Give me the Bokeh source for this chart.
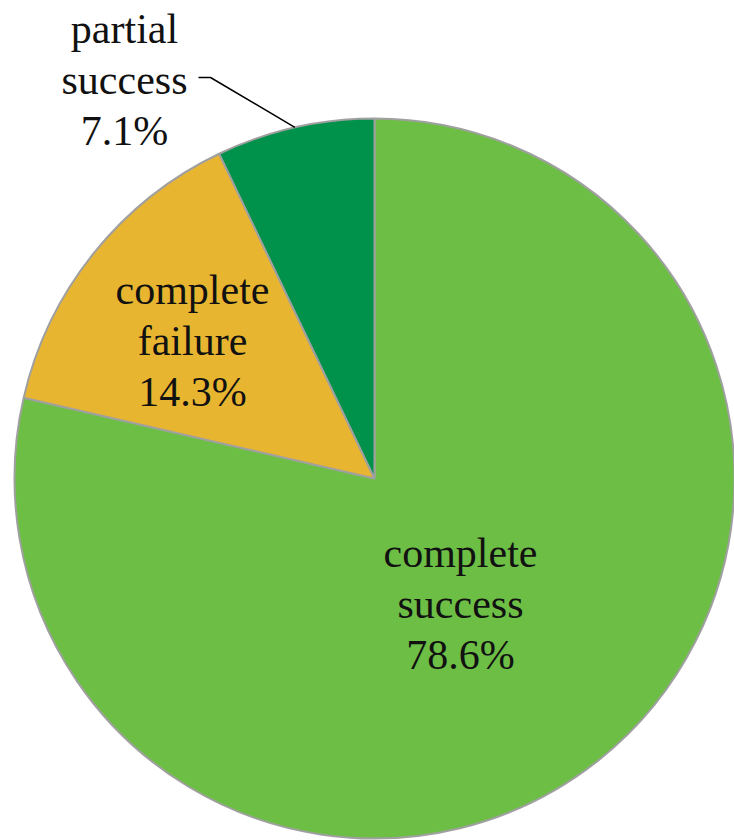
import math
from bokeh.plotting import figure
from bokeh.models import Range1d
from bokeh.core.properties import value
from bokeh.embed import file_html
from bokeh.resources import INLINE

# data
categories = ["complete success", "complete failure", "partial success"]
percents = [78.6, 14.3, 7.1]
colors = ["#6DBE45", "#E8B530", "#00914A"]

W, H = 734, 840
cx, cy, r = 374, H - 478, 360

p = figure(width=W, height=H, output_backend="svg", toolbar_location=None,
           x_range=Range1d(0, W), y_range=Range1d(0, H), min_border=0)
p.axis.visible = False
p.grid.visible = False
p.outline_line_color = None
p.background_fill_color = "white"

total = sum(percents)
start = math.pi / 2
starts, ends, mids = [], [], []
for v in percents:
    span = 2 * math.pi * v / total
    starts.append(start)
    ends.append(start - span)
    mids.append(start - span / 2)
    start -= span

p.wedge(x=[cx] * 3, y=[cy] * 3, radius=r, start_angle=starts, end_angle=ends,
        direction="clock", fill_color=colors, line_color="#A0A0A0", line_width=2)

# label anchors (pixel coordinates of text block centers)
lx = [460, 192, 124]
ly = [H - 603, H - 340, H - 79]
line_gap = 51

tx, ty, tt = [], [], []
for c, v, x0, y0 in zip(categories, percents, lx, ly):
    lines = c.split(" ") + [f"{v}%"]
    for j, s in enumerate(lines):
        tx.append(x0)
        ty.append(y0 + (1 - j) * line_gap)
        tt.append(s)

p.text(x=tx, y=ty, text=tt, text_font=value("Liberation Serif"), text_font_size="42px",
       text_align="center", text_baseline="middle", text_color="#111111")

# leader line for the small slice
a = mids[2]
ex, ey = cx + r * math.cos(a), cy + r * math.sin(a)
p.line(x=[198, 210, ex], y=[H - 77, H - 77, ey], line_color="black", line_width=1.5)

open("out.html", "w").write(file_html(p, INLINE))
